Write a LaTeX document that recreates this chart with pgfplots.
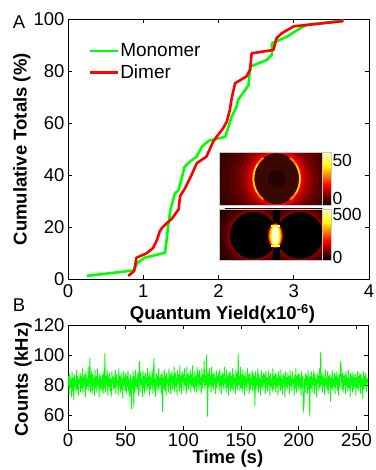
\documentclass[border=0pt]{standalone}
\usepackage{fontspec}
\setmainfont{Liberation Sans}
\usepackage{pgfplots}
\pgfplotsset{compat=1.18}
\definecolor{mgreen}{RGB}{0,255,0}
\definecolor{mred}{RGB}{255,0,0}
\definecolor{bgd}{RGB}{38,2,0}
\definecolor{bgb}{RGB}{22,0,0}
\definecolor{innerc}{RGB}{58,8,0}
\definecolor{innerd}{RGB}{36,3,0}
\definecolor{hotw}{RGB}{255,255,200}
\definecolor{framec}{RGB}{200,200,200}
\newcommand{\tfont}{\fontsize{18.5bp}{20bp}\selectfont}
\pgfplotsset{
  myax/.style={
    scale only axis,
    axis line style={line width=0.8bp},
    tick align=inside,
    major tick length=4bp,
    tick style={line width=0.8bp, black},
    tick label style={font=\tfont},
    /pgf/number format/assume math mode=true,
  }
}
\begin{document}
\begin{tikzpicture}[x=1bp,y=1bp]
\useasboundingbox (0,0) rectangle (375,470);

% ---------------- Panel A ----------------
\begin{axis}[myax,
  at={(68bp,190.7bp)}, anchor=south west,
  width=301bp, height=260bp,
  xmin=0, xmax=4, ymin=0, ymax=100,
  xtick={0,1,2,3,4}, ytick={0,20,40,60,80,100},
  xticklabel shift=2bp,
  xlabel={Quantum Yield(x10\textsuperscript{-6})},
  ylabel={Cumulative Totals (\%)},
  every axis x label/.style={at={(axis description cs:0.513,-0.133)}, anchor=center, font=\tfont\bfseries},
  every axis y label/.style={at={(axis description cs:-0.153,0.5)}, rotate=90, anchor=center, font=\tfont\bfseries},
  legend style={draw=none, fill=none, at={(0.068,0.91)}, anchor=north west,
    font=\fontsize{19bp}{21bp}\selectfont, row sep=4.5bp, inner sep=0pt,
    nodes={inner sep=1bp}},
  legend cell align=left,
  legend image code/.code={\draw[#1, line width=2.6bp] (0bp,0bp) -- (28bp,0bp);},
]
\addplot[mgreen, line width=2.6bp, line join=round] coordinates {
(0.25,1.3) (0.87,3.4) (0.93,6.5) (1.02,8.3) (1.29,10.2) (1.31,15) (1.33,20.2)
(1.36,26.6) (1.42,33) (1.47,34.3) (1.55,43.3) (1.62,45.2) (1.71,47.2) (1.78,51)
(1.87,53.3) (2.09,54.8) (2.175,62.5) (2.24,66.4) (2.26,69) (2.40,74.7) (2.42,81.8)
(2.64,84.3) (2.71,86.3) (2.71,90.8) (2.91,93.3) (3.08,96.5) (3.17,97.8) (3.66,99.5)
};
\addlegendentry{Monomer}
\addplot[mred, line width=2.6bp, line join=round] coordinates {
(0.80,1.3) (0.88,3.2) (0.91,8.3) (1.045,10) (1.13,12) (1.18,15) (1.22,18.5)
(1.25,19.8) (1.31,21.5) (1.38,23.3) (1.47,26.9) (1.49,32) (1.555,35) (1.64,40)
(1.71,44.6) (1.84,47.2) (1.93,53) (1.98,55) (2.06,58) (2.11,60.6) (2.15,65)
(2.175,69.6) (2.22,75.4) (2.37,78) (2.42,80.5) (2.44,86.9) (2.73,88.2) (2.77,92.7)
(2.84,94.6) (3.00,97.3) (3.66,99.3)
};
\addlegendentry{Dimer}
\end{axis}

% ---------------- Panel B ----------------
\begin{axis}[myax,
  at={(68bp,40bp)}, anchor=south west,
  width=300bp, height=105bp,
  xmin=0, xmax=260, ymin=50, ymax=120,
  xtick={0,50,100,150,200,250}, ytick={60,80,100,120},
  xlabel={Time (s)},
  ylabel={Counts (kHz)},
  every axis x label/.style={at={(axis description cs:0.533,-0.27)}, anchor=center, font=\tfont\bfseries},
  every axis y label/.style={at={(axis description cs:-0.15,0.48)}, rotate=90, anchor=center, font=\tfont\bfseries},
]
\addplot[mgreen, line width=0.85bp] table[x expr=\coordindex*0.5, y index=0, header=false, row sep=\\] {
80\\86\\74\\88\\78\\84\\72\\89\\76\\85\\70\\87\\79\\83\\75\\90\\77\\86\\73\\84\\
81\\88\\75\\86\\78\\91\\74\\85\\80\\87\\72\\89\\77\\84\\79\\92\\76\\86\\98\\75\\
83\\89\\74\\87\\79\\85\\73\\90\\78\\86\\75\\91\\80\\84\\72\\88\\77\\86\\81\\76\\
87\\74\\89\\78\\101\\75\\86\\80\\90\\73\\85\\79\\88\\76\\84\\72\\89\\81\\86\\77\\
85\\78\\90\\74\\87\\80\\83\\73\\91\\79\\86\\75\\88\\77\\84\\71\\89\\80\\85\\76\\
88\\74\\86\\79\\90\\76\\84\\72\\87\\80\\64\\85\\78\\89\\65\\86\\75\\90\\79\\84\\
77\\88\\73\\86\\96\\75\\89\\80\\84\\72\\90\\78\\86\\74\\88\\81\\85\\76\\91\\79\\
86\\73\\89\\77\\85\\80\\90\\74\\87\\98\\76\\84\\72\\88\\79\\86\\75\\91\\78\\85\\
80\\87\\74\\89\\62\\85\\78\\90\\76\\86\\73\\88\\81\\84\\75\\91\\79\\87\\74\\85\\
89\\77\\86\\80\\92\\75\\88\\79\\85\\73\\90\\81\\87\\76\\93\\78\\86\\74\\89\\82\\
87\\76\\91\\80\\85\\74\\92\\79\\88\\77\\86\\81\\90\\75\\87\\80\\93\\78\\85\\76\\
89\\79\\86\\75\\92\\81\\88\\76\\90\\80\\85\\74\\91\\78\\87\\82\\96\\77\\86\\80\\
100\\85\\59\\88\\78\\91\\80\\86\\75\\92\\79\\87\\77\\89\\81\\85\\74\\90\\78\\86\\
82\\88\\76\\91\\79\\86\\74\\89\\80\\87\\77\\92\\81\\85\\75\\90\\78\\86\\73\\88\\
80\\89\\76\\86\\78\\91\\75\\87\\81\\85\\74\\90\\79\\88\\77\\101\\80\\86\\76\\92\\
78\\87\\75\\90\\80\\86\\73\\89\\79\\85\\76\\91\\81\\87\\74\\88\\77\\85\\80\\90\\
76\\88\\79\\86\\66\\89\\77\\85\\80\\91\\75\\87\\78\\84\\73\\90\\79\\86\\76\\88\\
81\\87\\74\\89\\78\\85\\76\\90\\80\\86\\73\\88\\79\\84\\75\\91\\77\\86\\80\\88\\
75\\87\\79\\85\\73\\89\\80\\86\\76\\90\\78\\84\\74\\88\\81\\86\\72\\89\\79\\85\\
77\\88\\80\\86\\74\\90\\79\\85\\76\\89\\81\\84\\73\\87\\78\\91\\75\\86\\80\\88\\
76\\87\\79\\85\\73\\89\\78\\86\\63\\65\\84\\75\\88\\80\\86\\74\\90\\77\\85\\59\\
86\\78\\89\\75\\85\\80\\90\\74\\87\\79\\84\\72\\88\\81\\86\\76\\91\\78\\102\\80\\
86\\75\\88\\79\\85\\73\\90\\80\\84\\77\\89\\74\\86\\81\\87\\69\\85\\78\\90\\76\\
84\\79\\88\\74\\86\\80\\89\\76\\85\\73\\87\\78\\91\\96\\84\\77\\88\\75\\86\\80\\
87\\74\\89\\79\\85\\76\\90\\78\\84\\72\\88\\80\\86\\75\\89\\77\\85\\79\\87\\73\\
85\\78\\89\\76\\86\\80\\88\\74\\87\\79\\84\\71\\89\\77\\86\\80\\88\\75\\85\\82\\
84\\
};
\end{axis}

% panel letters
\node[font=\tfont] at (19,448) {A};
\node[font=\tfont] at (19,165) {B};

% ---------------- Inset 1 (monomer field map) ----------------
\begin{scope}
\clip (219.3,265) rectangle (322.5,317.7);
\fill[bgd] (219.3,265) rectangle (322.5,317.7);
\foreach \d/\p in {34/8,26/14,20/22,15/32,11/45,8/58,5/72,3/86,1.5/100}{
  \fill[mred!\p!bgd] (276.7,291.3) ellipse [x radius={23.3+\d*1.2}, y radius={25.5+\d*0.9}];
}
\fill[innerc] (276.7,291.3) ellipse [x radius=23.3, y radius=25.5];
\fill[innerd] (276.7,291.3) circle [radius=9];
\draw[orange, line width=2bp] (276.7,291.3) ++(125:23.3 and 25.5) arc[start angle=125, end angle=235, x radius=23.3, y radius=25.5];
\draw[orange, line width=2bp] (276.7,291.3) ++(-55:23.3 and 25.5) arc[start angle=-55, end angle=55, x radius=23.3, y radius=25.5];
\draw[yellow, line width=1.1bp] (276.7,291.3) ++(145:23.3 and 25.5) arc[start angle=145, end angle=215, x radius=23.3, y radius=25.5];
\draw[yellow, line width=1.1bp] (276.7,291.3) ++(-35:23.3 and 25.5) arc[start angle=-35, end angle=35, x radius=23.3, y radius=25.5];
\end{scope}
\draw[framec, line width=0.7bp] (219.3,265) rectangle (322.5,317.7);

% ---------------- Inset 2 (dimer field map) ----------------
\begin{scope}
\clip (219.3,210) rectangle (322.5,261);
\fill[bgb] (219.3,210) rectangle (322.5,261);
\foreach \d/\p in {16/8,11/15,7/24,4/34,2/45}{
  \fill[mred!\p!bgb] (253.3,234.5) circle [radius={23.3+\d}];
  \fill[mred!\p!bgb] (299.7,234.5) circle [radius={23.3+\d}];
}
\fill[black] (253.3,234.5) circle [radius=23.3];
\fill[black] (299.7,234.5) circle [radius=23.3];
\fill[black] (273,210) rectangle (279.5,261);
\fill[mred] (275.4,234.3) ellipse [x radius=7.5, y radius=12.5];
\fill[orange] (275.4,234.3) ellipse [x radius=6.3, y radius=11.5];
\fill[yellow] (275.4,234.3) ellipse [x radius=5.3, y radius=10.8];
\fill[hotw] (275.4,234.3) ellipse [x radius=3.8, y radius=8.8];
\fill[yellow!60!white] (271.2,243.4) rectangle (279.6,245.2);
\fill[yellow!60!white] (271.2,223.4) rectangle (279.6,225.2);
\end{scope}
\draw[framec, line width=0.7bp] (219.3,210) rectangle (322.5,261);

% ---------------- colorbars ----------------
\foreach \yb/\yt in {265/317.7, 210/261}{
  \pgfmathsetmacro{\ya}{\yb+0.375*(\yt-\yb)}
  \pgfmathsetmacro{\yc}{\yb+0.75*(\yt-\yb)}
  \shade[bottom color=black, top color=mred] (322.5,\yb) rectangle (330.8,\ya);
  \shade[bottom color=mred, top color=yellow] (322.5,\ya) rectangle (330.8,\yc);
  \shade[bottom color=yellow, top color=yellow!25!white] (322.5,\yc) rectangle (330.8,\yt);
  \draw[framec, line width=0.6bp] (322.5,\yb) rectangle (330.8,\yt);
}
\begin{scope}[every node/.style={font=\fontsize{17.5bp}{19bp}\selectfont, anchor=west, inner sep=0pt}]
\node at (332.3,310) {50};
\node at (332.3,272) {0};
\node at (332.3,255.5) {500};
\node at (332.3,212.3) {0};
\end{scope}
\end{tikzpicture}
\end{document}
